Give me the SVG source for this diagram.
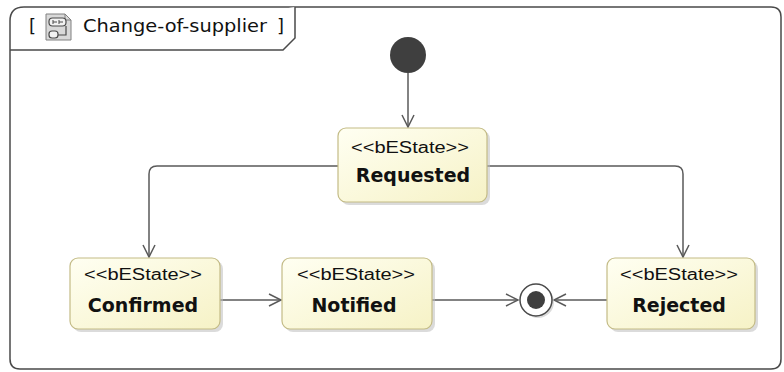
<svg xmlns="http://www.w3.org/2000/svg" width="784" height="372" viewBox="0 0 784 372">
<style>
.frame{fill:#fff;stroke:#4a4a4a;stroke-width:1.5}
.node{fill:url(#g);stroke:#c3bb86;stroke-width:1.2}
.shadow{fill:#bdbdbd;opacity:.55}
.st{font-family:"Liberation Sans",Arial,sans-serif;font-size:16px;fill:#111;text-anchor:middle}
.nm{font-family:"DejaVu Sans",Verdana,sans-serif;font-size:19px;font-weight:bold;fill:#111;text-anchor:middle}
.ttl{font-family:"DejaVu Sans",Verdana,sans-serif;font-size:18px;fill:#111}
.edge{fill:none;stroke:#5a5a5a;stroke-width:1.5}
</style>
<defs>
<linearGradient id="g" x1="0" y1="0" x2="1" y2="1">
<stop offset="0" stop-color="#fffff2"/>
<stop offset="1" stop-color="#f6f2c6"/>
</linearGradient>
<marker id="arr" markerUnits="userSpaceOnUse" markerWidth="16" markerHeight="16" viewBox="-14 -8 16 16" refX="0" refY="0" orient="auto">
<path d="M-12,-6 L0,0 L-12,6" fill="none" stroke="#5a5a5a" stroke-width="1.5"/>
</marker>
</defs>
<rect width="784" height="372" fill="#fff"/>
<g id="frame">
<path class="frame" d="M10,21 Q10,7 24,7 H771 Q781,7 781,17 V359 Q781,369 771,369 H20 Q10,369 10,359 Z"/>
<path class="frame" fill="none" d="M10,50 H283 L295,38 V7"/>
<text class="ttl" x="29" y="32">[</text>
<g id="icon">
<path d="M46,14 H65 L71,20 V40 H46 Z" fill="#d9d9d9" stroke="#808080" stroke-width="1"/>
<path d="M65,14 V20 H71" fill="none" stroke="#808080" stroke-width="1"/>
<rect x="49" y="18" width="17" height="8" rx="3.5" fill="#f2f2f2" stroke="#4a4a4a" stroke-width="1.2"/>
<path d="M53,20 V24 M53,22 H57 M59,20 V24 M59,22 H63" stroke="#4a4a4a" stroke-width="1"/>
<rect x="49" y="31" width="9" height="7" rx="3" fill="#f2f2f2" stroke="#4a4a4a" stroke-width="1.2"/>
<path d="M66,26 V35 H58" fill="none" stroke="#4a4a4a" stroke-width="1.2"/>
</g>
<text class="ttl" x="83" y="32" textLength="184" lengthAdjust="spacingAndGlyphs">Change-of-supplier</text>
<text class="ttl" x="277" y="32">]</text>
</g>
<g id="connectors">
<path class="edge" marker-end="url(#arr)" d="M408,73 V127"/>
<path class="edge" marker-end="url(#arr)" d="M338,166 H157 Q149,166 149,174 V257"/>
<path class="edge" marker-end="url(#arr)" d="M487,166 H675 Q683,166 683,174 V257"/>
<path class="edge" marker-end="url(#arr)" d="M220,300 H281"/>
<path class="edge" marker-end="url(#arr)" d="M432,300 H518"/>
<path class="edge" marker-end="url(#arr)" d="M607,300 H554"/>
</g>
<g id="initial">
<circle cx="408" cy="55" r="18" fill="#3f3f3f"/>
</g>
<g id="requested">
<rect class="shadow" x="341" y="131" width="149" height="74" rx="8"/>
<rect class="node" x="338" y="128" width="149" height="74" rx="8"/>
<text class="st" x="410" y="153" textLength="118" lengthAdjust="spacingAndGlyphs">&lt;&lt;bEState&gt;&gt;</text>
<text class="nm" x="413" y="182">Requested</text>
</g>
<g id="confirmed">
<rect class="shadow" x="73" y="261" width="150" height="71" rx="8"/>
<rect class="node" x="70" y="258" width="150" height="71" rx="8"/>
<text class="st" x="143" y="280" textLength="118" lengthAdjust="spacingAndGlyphs">&lt;&lt;bEState&gt;&gt;</text>
<text class="nm" x="143" y="312">Confirmed</text>
</g>
<g id="notified">
<rect class="shadow" x="285" y="261" width="150" height="71" rx="8"/>
<rect class="node" x="282" y="258" width="150" height="71" rx="8"/>
<text class="st" x="356" y="280" textLength="118" lengthAdjust="spacingAndGlyphs">&lt;&lt;bEState&gt;&gt;</text>
<text class="nm" x="354" y="312">Notified</text>
</g>
<g id="rejected">
<rect class="shadow" x="610" y="261" width="148" height="71" rx="8"/>
<rect class="node" x="607" y="258" width="148" height="71" rx="8"/>
<text class="st" x="679" y="280" textLength="118" lengthAdjust="spacingAndGlyphs">&lt;&lt;bEState&gt;&gt;</text>
<text class="nm" x="679" y="312">Rejected</text>
</g>
<g id="final">
<circle cx="538" cy="302" r="16" class="shadow"/>
<circle cx="536" cy="300" r="16" fill="#fff" stroke="#4a4a4a" stroke-width="1.5"/>
<circle cx="536" cy="300" r="9" fill="#3f3f3f"/>
</g>
</svg>
